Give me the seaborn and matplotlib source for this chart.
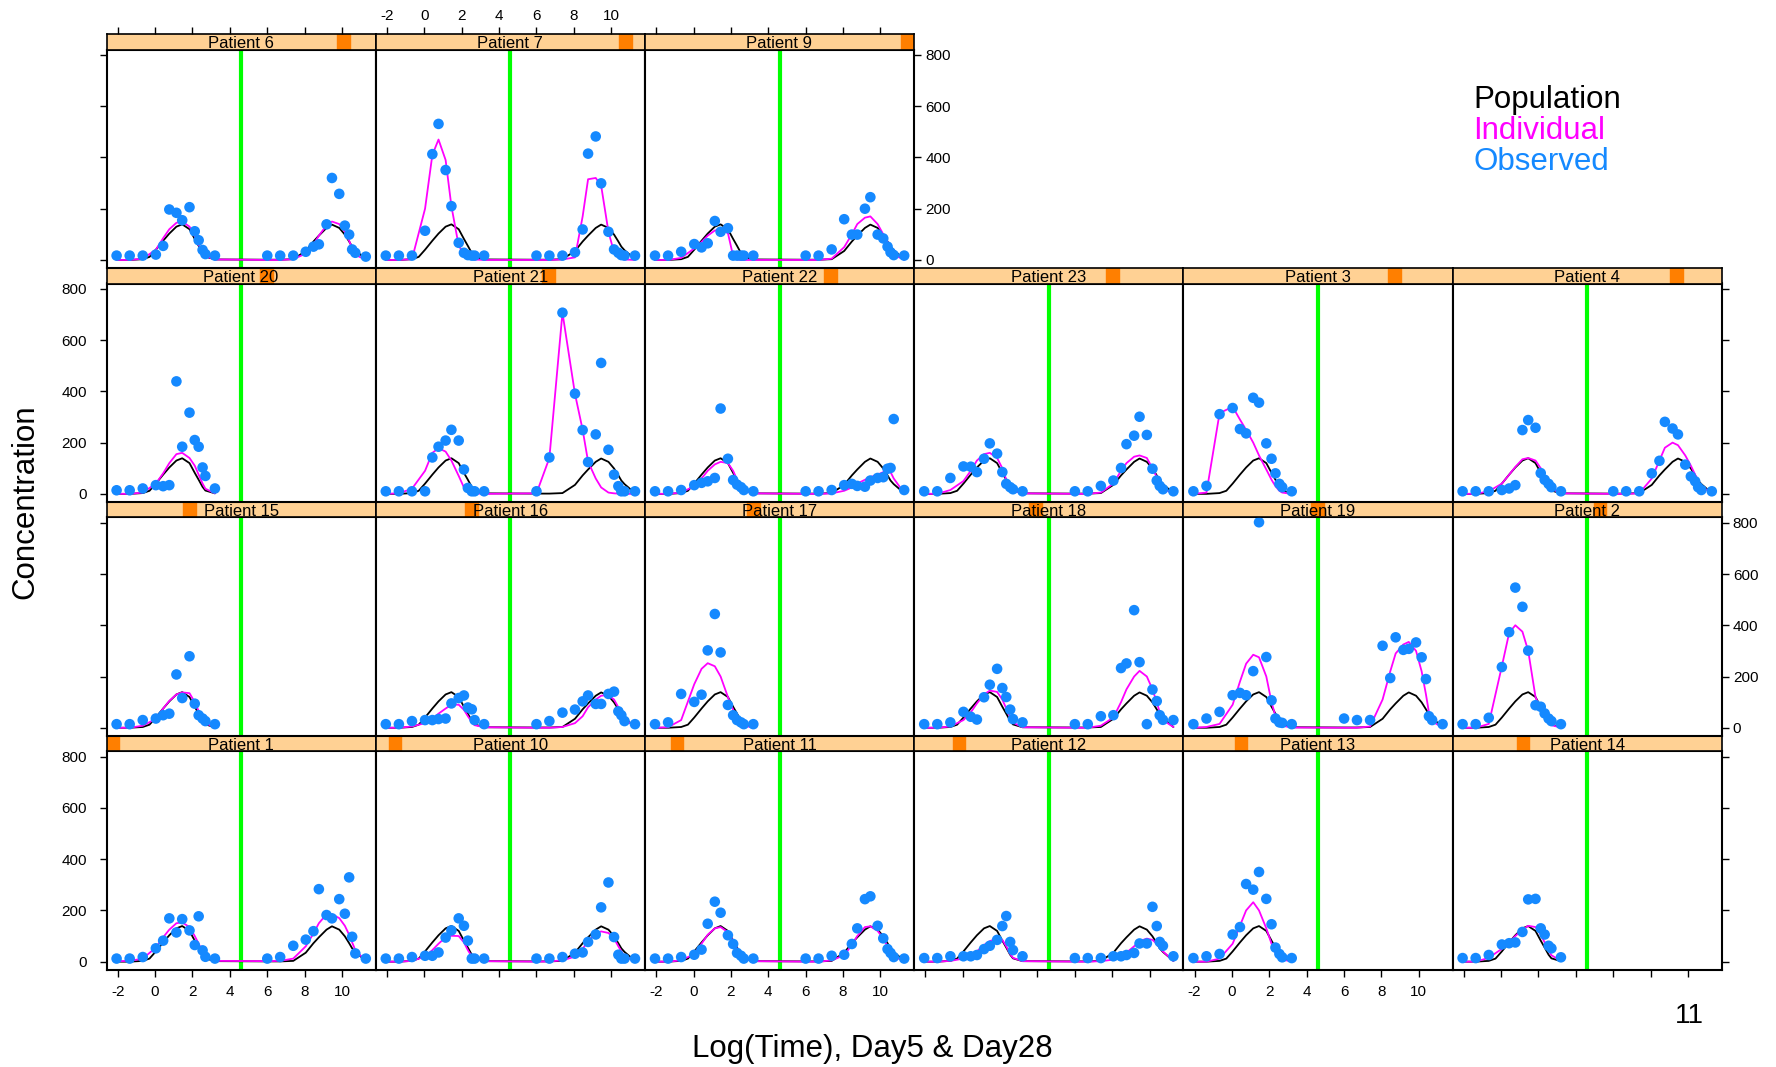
import matplotlib
matplotlib.use("Agg")
import matplotlib.pyplot as plt
import seaborn as sns
import pandas as pd

# ---------------- data ----------------
PATIENTS = ["Patient 1", "Patient 10", "Patient 11", "Patient 12", "Patient 13", "Patient 14",
            "Patient 15", "Patient 16", "Patient 17", "Patient 18", "Patient 19", "Patient 2",
            "Patient 20", "Patient 21", "Patient 22", "Patient 23", "Patient 3", "Patient 4",
            "Patient 6", "Patient 7", "Patient 9"]

# log(time) sampling grid for each period
X5 = [-2.06, -1.36, -0.66, 0.04, 0.43, 0.76, 1.14, 1.45, 1.84, 2.12, 2.33, 2.54, 2.69, 3.2]
X28 = [6.0, 6.69, 7.39, 8.06, 8.47, 8.76, 9.17, 9.46, 9.85, 10.15, 10.38, 10.54, 10.71, 11.27]

# population prediction (same for every patient)
POP_X5 = [-2.06, -1.36, -0.66, -0.3, 0.04, 0.43, 0.76, 1.14, 1.45, 1.84, 2.12, 2.33, 2.54, 2.69, 3.2]
POP_Y5 = [0, 0, 3, 12, 40, 75, 103, 130, 139, 120, 82, 55, 27, 13, 2]
POP_X28 = [6.0, 6.69, 7.39, 8.06, 8.47, 8.76, 9.17, 9.46, 9.85, 10.15, 10.38, 10.54, 10.71, 11.27]
POP_Y28 = [1, 1, 3, 35, 72, 95, 125, 138, 125, 99, 72, 52, 38, 3]

OBS5 = {
    "Patient 1": [12, 12, 18, 52, 82, 169, 114, 166, 122, 65, 177, 44, 19, 12],
    "Patient 10": [12, 12, 18, 23, 23, 36, 94, 122, 169, 140, 82, 12, 12, 12],
    "Patient 11": [12, 12, 18, 27, 47, 148, 234, 191, 103, 69, 34, 23, 12, 12],
    "Patient 12": [14, 14, 21, 21, 21, 26, 49, 62, 85, 139, 178, 77, 45, 21],
    "Patient 13": [14, 21, 30, 106, 135, 303, 281, 350, 245, 146, 55, 30, 17, 14],
    "Patient 14": [14, 14, 26, 67, 72, 75, 116, 243, 245, 130, 106, 62, 52, 17],
    "Patient 15": [14, 14, 30, 36, 49, 55, 208, 116, 279, 94, 49, 36, 26, 14],
    "Patient 16": [14, 14, 26, 30, 30, 34, 36, 95, 116, 126, 79, 72, 30, 14],
    "Patient 17": [14, 21, 132, 101, 129, 302, 444, 294, 89, 49, 30, 21, 14, 14],
    "Patient 18": [14, 14, 21, 62, 43, 32, 119, 168, 230, 155, 120, 71, 34, 21],
    "Patient 19": [14, 36, 62, 127, 136, 127, 221, 802, 276, 107, 36, 21, 19, 14],
    "Patient 2": [14, 14, 39, 237, 373, 547, 472, 301, 88, 82, 56, 36, 26, 14],
    "Patient 20": [14, 14, 21, 34, 30, 34, 439, 184, 317, 210, 184, 103, 70, 21],
    "Patient 21": [10, 10, 10, 10, 142, 184, 208, 250, 208, 95, 23, 10, 10, 10],
    "Patient 22": [10, 10, 15, 34, 43, 49, 62, 333, 137, 54, 36, 26, 15, 10],
    "Patient 23": [10, 10, 62, 107, 106, 85, 137, 197, 157, 85, 39, 26, 18, 10],
    "Patient 3": [10, 31, 311, 335, 253, 236, 375, 356, 197, 137, 80, 39, 26, 10],
    "Patient 4": [10, 10, 10, 15, 21, 34, 249, 288, 258, 81, 55, 39, 26, 10],
    "Patient 6": [17, 17, 17, 21, 55, 197, 184, 155, 206, 112, 77, 39, 23, 17],
    "Patient 7": [17, 17, 17, 114, 413, 531, 351, 210, 67, 28, 19, 17, 17, 17],
    "Patient 9": [17, 17, 32, 62, 49, 65, 152, 110, 124, 17, 17, 17, 17, 17],
}

IND5 = {
    "Patient 1": [2, 3, 12, 55, 95, 125, 150, 153, 135, 100, 70, 40, 25, 3],
    "Patient 10": [0, 0, 3, 20, 45, 70, 95, 101, 100, 75, 45, 20, 10, 2],
    "Patient 11": [0, 0, 5, 30, 70, 105, 130, 135, 115, 80, 50, 25, 12, 2],
    "Patient 12": [0, 0, 3, 12, 25, 40, 65, 80, 90, 85, 60, 30, 15, 2],
    "Patient 13": [0, 0, 12, 70, 140, 200, 232, 200, 130, 70, 35, 15, 8, 1],
    "Patient 14": [0, 0, 15, 50, 75, 100, 125, 140, 135, 105, 75, 45, 25, 3],
    "Patient 15": [0, 0, 8, 35, 75, 105, 130, 138, 135, 100, 65, 35, 18, 2],
    "Patient 16": [0, 0, 5, 18, 35, 55, 75, 90, 90, 70, 45, 22, 10, 2],
    "Patient 17": [0, 2, 30, 170, 230, 252, 240, 200, 120, 70, 35, 15, 8, 1],
    "Patient 18": [0, 0, 5, 30, 60, 95, 130, 145, 140, 110, 75, 40, 20, 2],
    "Patient 19": [0, 3, 15, 90, 180, 250, 285, 275, 200, 100, 45, 20, 8, 1],
    "Patient 2": [0, 0, 15, 240, 370, 400, 375, 300, 120, 70, 40, 20, 10, 1],
    "Patient 20": [0, 0, 5, 40, 80, 120, 155, 160, 140, 110, 75, 40, 20, 2],
    "Patient 21": [0, 2, 20, 90, 160, 178, 165, 130, 70, 25, 8, 3, 2, 0],
    "Patient 22": [0, 0, 5, 30, 60, 90, 115, 125, 120, 90, 55, 25, 12, 2],
    "Patient 23": [0, 0, 15, 50, 90, 130, 155, 160, 140, 100, 55, 25, 12, 2],
    "Patient 3": [0, 5, 315, 340, 290, 250, 200, 150, 95, 55, 30, 12, 5, 0],
    "Patient 4": [0, 0, 10, 40, 75, 105, 135, 140, 130, 100, 70, 40, 20, 2],
    "Patient 6": [0, 0, 5, 40, 85, 120, 145, 150, 130, 95, 60, 30, 15, 2],
    "Patient 7": [0, 0, 3, 200, 410, 470, 390, 210, 55, 25, 12, 4, 2, 0],
    "Patient 9": [0, 0, 8, 45, 70, 95, 115, 118, 105, 15, 2, 0, 0, 0],
}

OBS28 = {
    "Patient 1": [12, 18, 62, 86, 119, 283, 182, 169, 244, 187, 329, 97, 32, 12],
    "Patient 10": [12, 12, 18, 31, 36, 77, 106, 212, 309, 96, 27, 12, 12, 12],
    "Patient 11": [12, 12, 23, 27, 69, 130, 244, 255, 140, 91, 49, 34, 18, 12],
    "Patient 12": [14, 14, 14, 21, 21, 26, 34, 71, 71, 214, 139, 77, 62, 21],
    "Patient 16": [14, 26, 59, 71, 103, 126, 93, 93, 132, 141, 64, 49, 26, 14],
    "Patient 18": [14, 14, 45, 49, 233, 251, 459, 256, 14, 149, 104, 49, 31, 30],
    "Patient 19": [36, 30, 30, 320, 194, 353, 304, 308, 333, 275, 190, 45, 30, 14],
    "Patient 21": [10, 142, 707, 391, 249, 124, 232, 511, 172, 75, 30, 10, 10, 10],
    "Patient 22": [10, 10, 15, 34, 39, 31, 28, 52, 62, 65, 98, 101, 292, 15],
    "Patient 23": [10, 10, 31, 52, 101, 194, 227, 301, 230, 98, 52, 31, 18, 10],
    "Patient 4": [10, 10, 10, 80, 129, 281, 255, 232, 114, 68, 49, 26, 15, 10],
    "Patient 6": [17, 17, 17, 32, 52, 61, 139, 320, 258, 134, 99, 41, 28, 13],
    "Patient 7": [17, 17, 17, 30, 119, 415, 482, 299, 110, 41, 28, 19, 17, 17],
    "Patient 9": [17, 17, 41, 159, 99, 99, 200, 245, 99, 84, 52, 30, 19, 17],
}

IND28 = {
    "Patient 1": [2, 3, 12, 60, 110, 150, 185, 185, 170, 140, 105, 75, 45, 3],
    "Patient 10": [0, 1, 5, 20, 50, 80, 110, 118, 112, 90, 60, 40, 20, 2],
    "Patient 11": [0, 0, 5, 25, 65, 100, 135, 138, 120, 90, 60, 40, 20, 2],
    "Patient 12": [0, 0, 2, 8, 20, 35, 60, 80, 90, 85, 70, 55, 40, 3],
    "Patient 16": [0, 0, 3, 18, 45, 80, 110, 125, 128, 110, 80, 55, 35, 3],
    "Patient 18": [0, 0, 8, 40, 100, 150, 200, 222, 200, 150, 100, 60, 30, 3],
    "Patient 19": [0, 0, 5, 110, 220, 290, 325, 335, 300, 220, 130, 60, 25, 1],
    "Patient 21": [2, 140, 707, 390, 250, 126, 60, 25, 5, 2, 1, 0, 0, 0],
    "Patient 22": [0, 0, 2, 12, 25, 40, 55, 65, 75, 85, 90, 85, 60, 3],
    "Patient 23": [0, 0, 5, 40, 90, 120, 145, 150, 140, 100, 65, 40, 20, 1],
    "Patient 4": [0, 0, 2, 60, 130, 180, 200, 190, 150, 110, 75, 50, 30, 2],
    "Patient 6": [0, 0, 3, 25, 60, 95, 135, 150, 140, 110, 75, 45, 20, 1],
    "Patient 7": [0, 0, 2, 10, 170, 315, 320, 290, 110, 30, 10, 4, 2, 0],
    "Patient 9": [0, 0, 5, 50, 100, 140, 165, 170, 140, 100, 70, 45, 20, 1],
}

DOSE_LINE = 4.6
XTICKS = [-2, 0, 2, 4, 6, 8, 10]
YTICKS = [0, 200, 400, 600, 800]
XLIM = (-2.6, 11.8)
YLIM = (-31, 821)
LEGEND = ["Population", "Individual", "Observed"]

# ---------------- style ----------------
C_POP = "black"
C_IND = "#FF00FF"
C_OBS = "#1589FF"
C_LINE = "#00FF00"
C_STRIP = "#FFD194"
C_SHINGLE = "#FF7F00"

sns.set_theme(style="white")
plt.rcParams["font.family"] = ["Liberation Sans", "DejaVu Sans"]

W, H = 1776, 1067
fig = plt.figure(figsize=(W / 100, H / 100), dpi=100)
fig.patch.set_facecolor("white")


def rect(x0, y_top, w, h):
    return [x0 / W, 1 - (y_top + h) / H, w / W, h / H]


COL_LEFT, COL_W = 106.5, 269.2
ROW_TOP, ROW_H, STRIP_H = 34.0, 233.9, 15.6
NCOL, NROW = 6, 4
n_levels = len(PATIENTS)

for i, pat in enumerate(PATIENTS):
    rb = i // NCOL          # row from bottom
    col = i % NCOL
    rt = NROW - 1 - rb      # row from top
    x0 = COL_LEFT + col * COL_W
    st = ROW_TOP + rt * ROW_H
    is_last_in_row = (col == NCOL - 1) or (i == n_levels - 1)

    # ---- panel ----
    ax = fig.add_axes(rect(x0, st + STRIP_H, COL_W, ROW_H - STRIP_H))
    has28 = pat in OBS28
    px = POP_X5 + (POP_X28 if has28 else [])
    py = POP_Y5 + (POP_Y28 if has28 else [])
    ix = X5 + (X28 if has28 else [])
    iy = IND5[pat] + (IND28[pat] if has28 else [])
    ox = X5 + (X28 if has28 else [])
    oy = OBS5[pat] + (OBS28[pat] if has28 else [])

    ax.axvline(DOSE_LINE, color=C_LINE, lw=3, zorder=1)
    sns.lineplot(x=px, y=py, ax=ax, color=C_POP, lw=1.3, estimator=None, sort=False,
                 legend=False, zorder=2)
    sns.lineplot(x=ix, y=iy, ax=ax, color=C_IND, lw=1.3, estimator=None, sort=False,
                 legend=False, zorder=3)
    sns.scatterplot(x=ox, y=oy, ax=ax, color=C_OBS, s=58, linewidth=0, edgecolor="none",
                    legend=False, zorder=4)

    ax.set_xlim(*XLIM)
    ax.set_ylim(*YLIM)
    ax.set_xticks(XTICKS)
    ax.set_yticks(YTICKS)
    ax.set_xticklabels([str(t) for t in XTICKS])
    ax.set_yticklabels([str(t) for t in YTICKS])
    ax.set_xlabel("")
    ax.set_ylabel("")
    ax.grid(False)
    for sp in ax.spines.values():
        sp.set_visible(True)
        sp.set_color("black")
        sp.set_linewidth(1.5)
    ax.tick_params(axis="both", direction="out", length=5, width=1, labelsize=11,
                   colors="black", top=False)
    ax.tick_params(axis="y", left=(col == 0), labelleft=(col == 0 and rb in (0, 2)),
                   right=is_last_in_row, labelright=(is_last_in_row and rb in (1, 3)))
    ax.tick_params(axis="y", which="major", pad=3)
    ax.tick_params(axis="x", bottom=(rb == 0), labelbottom=(rb == 0 and col % 2 == 0),
                   top=False, labeltop=False, pad=6)
    if col == 0:
        ax.yaxis.set_tick_params(which="major", pad=9)

    # ---- strip ----
    sax = fig.add_axes(rect(x0, st, COL_W, STRIP_H))
    sax.set_facecolor(C_STRIP)
    sax.set_xlim(0, 1)
    sax.set_ylim(0, 1)
    sax.axvspan(i / n_levels, (i + 1) / n_levels, color=C_SHINGLE, zorder=1)
    sax.text(0.5, 0.38, pat, ha="center", va="center", fontsize=12, color="black",
             zorder=2)
    for sp in sax.spines.values():
        sp.set_visible(True)
        sp.set_color("black")
        sp.set_linewidth(1.2)
    sax.set_yticks([])
    if rt == 0:
        tax = sax.twiny()
        tax.set_xlim(*XLIM)
        tax.set_xticks(XTICKS)
        tax.set_xticklabels([str(t) for t in XTICKS])
        tax.tick_params(axis="x", direction="out", length=5, width=1, labelsize=11,
                        colors="black", top=True, labeltop=(col % 2 == 1), pad=3)
        for sp in tax.spines.values():
            sp.set_visible(False)
        sax.set_xticks([])
    else:
        sax.set_xticks([])

# ---- titles / legend ----
fig.text(25 / W, 1 - 502 / H, "Concentration", rotation=90, ha="center", va="center",
         fontsize=22.5, color="black")
fig.text(872 / W, 1 - 1049 / H, "Log(Time), Day5 & Day28", ha="center", va="center",
         fontsize=22.5, color="black")
for k, (txt, c) in enumerate(zip(LEGEND, [C_POP, C_IND, C_OBS])):
    fig.text(1473 / W, 1 - (108 + 31 * k) / H, txt, ha="left", va="baseline",
             fontsize=22.5, color=c)
fig.text(1675 / W, 1 - 1023 / H, "11", ha="left", va="baseline", fontsize=20,
         color="black")

fig.savefig("out.png", dpi=100, facecolor="white")
